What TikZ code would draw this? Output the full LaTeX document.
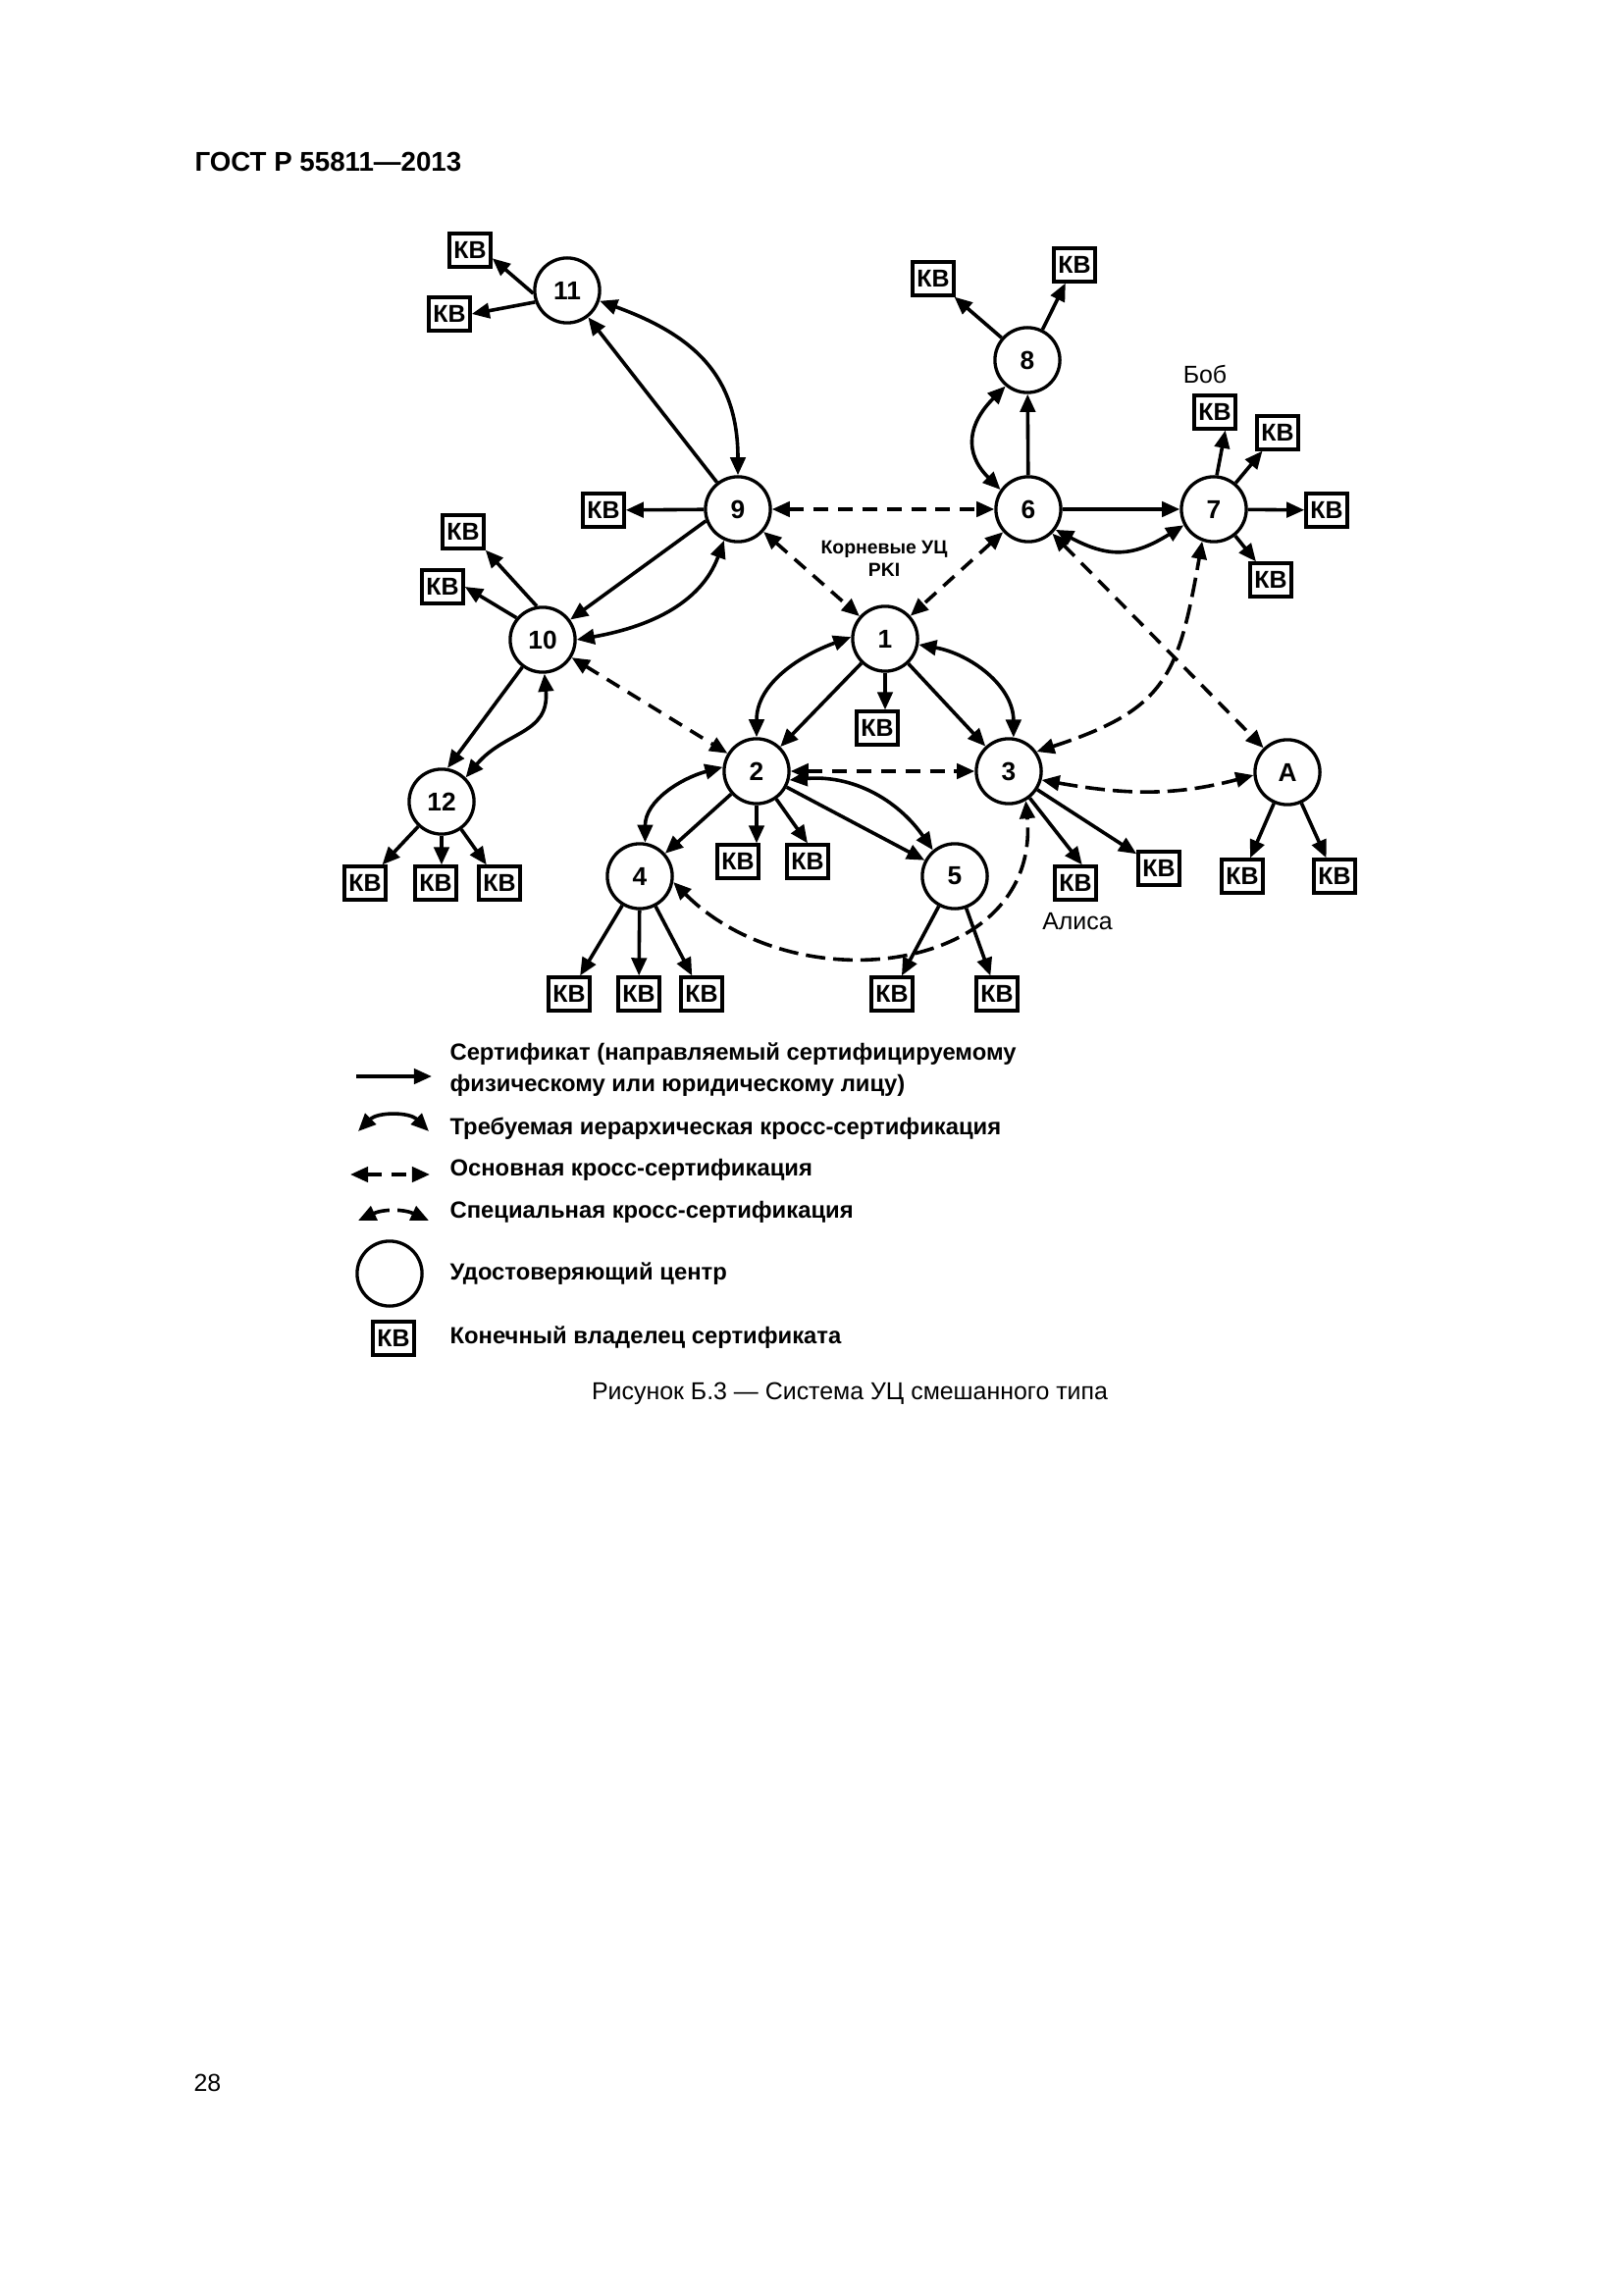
\documentclass[tikz,border=0pt]{standalone}
\usepackage{fontspec}
\setmainfont{Liberation Sans}
\usetikzlibrary{arrows.meta,calc}
\begin{document}
\begin{tikzpicture}[x=0.12696mm,y=0.12696mm,
  >={Triangle[length=2.3mm,width=1.95mm]},
  ca/.style={circle,draw,line width=1.2pt,minimum size=8.4mm,inner sep=0pt,font=\fontsize{9.5}{10}\selectfont\bfseries},
  kb/.style={rectangle,draw,line width=1.2pt,minimum width=5.35mm,minimum height=4.3mm,inner sep=0pt,font=\fontsize{9}{10}\selectfont\bfseries},
  cert/.style={line width=1.3pt,->},
  req/.style={line width=1.3pt,<->},
  basic/.style={line width=1.3pt,<->,dash pattern=on 5.4pt off 3.6pt},
  spec/.style={line width=1.3pt,<->,dash pattern=on 7.2pt off 2.9pt},
  legspec/.style={line width=1.3pt,<->,dash pattern=on 6pt off 3pt},
  lbl/.style={font=\fontsize{9}{11}\selectfont},
  leg/.style={font=\fontsize{8.6}{11.6}\selectfont\bfseries,anchor=west,align=left,inner sep=0pt}
]
\path[use as bounding box] (0,0) rectangle (1654,-2339);

% header, caption, page number
\node[anchor=west,inner sep=0pt,font=\fontsize{10}{12}\selectfont\bfseries] (hdr) at (198,-165) {ГОСТ Р 55811—2013};
\node[inner sep=0pt,font=\fontsize{9}{11}\selectfont] (cap) at (866,-1420) {Рисунок Б.3 — Система УЦ смешанного типа};
\node[anchor=west,inner sep=0pt,font=\fontsize{9}{11}\selectfont] (pg) at (197,-2123) {28};

% certification authorities
\node[ca] (n11) at (578,-296) {11};
\node[ca] (n9) at (752,-519) {9};
\node[ca] (n10) at (553,-652) {10};
\node[ca] (n12) at (450,-817) {12};
\node[ca] (n1) at (902,-651) {1};
\node[ca] (n2) at (771,-786) {2};
\node[ca] (n3) at (1028,-786) {3};
\node[ca] (n4) at (652,-893) {4};
\node[ca] (n5) at (973,-893) {5};
\node[ca] (nA) at (1312,-787) {A};
\node[ca] (n6) at (1048,-519) {6};
\node[ca] (n7) at (1237,-519) {7};
\node[ca] (n8) at (1047,-367) {8};

% end entities
\node[kb] (k11a) at (479,-255) {КВ};
\node[kb] (k11b) at (458,-320) {КВ};
\node[kb] (k9) at (615,-520) {КВ};
\node[kb] (k10a) at (472,-542) {КВ};
\node[kb] (k10b) at (451,-598) {КВ};
\node[kb] (k12a) at (372,-900) {КВ};
\node[kb] (k12b) at (444,-900) {КВ};
\node[kb] (k12c) at (509,-900) {КВ};
\node[kb] (k1) at (894,-742) {КВ};
\node[kb] (k2a) at (752,-878) {КВ};
\node[kb] (k2b) at (823,-878) {КВ};
\node[kb] (k4a) at (580,-1013) {КВ};
\node[kb] (k4b) at (651,-1013) {КВ};
\node[kb] (k4c) at (715,-1013) {КВ};
\node[kb] (k5a) at (909,-1013) {КВ};
\node[kb] (k5b) at (1016,-1013) {КВ};
\node[kb] (k3a) at (1096,-900) {КВ};
\node[kb] (k3b) at (1181,-885) {КВ};
\node[kb] (kAa) at (1266,-893) {КВ};
\node[kb] (kAb) at (1360,-893) {КВ};
\node[kb] (k8a) at (951,-284) {КВ};
\node[kb] (k8b) at (1095,-270) {КВ};
\node[kb] (k7a) at (1238,-420) {КВ};
\node[kb] (k7b) at (1302,-441) {КВ};
\node[kb] (k7c) at (1352,-520) {КВ};
\node[kb] (k7d) at (1295,-591) {КВ};

% labels
\node[lbl] (bob) at (1228,-381) {Боб};
\node[lbl] (alice) at (1098,-939) {Алиса};
\node[font=\fontsize{7}{8.3}\selectfont\bfseries,align=center,inner sep=0pt] (root) at (901,-569) {Корневые УЦ\\PKI};

% certificates
\draw[cert] (n11.185) -- (k11a.-20);
\draw[cert] (n11.-160) -- (k11b.east);
\draw[cert] (n9) -- (n11);
\draw[cert] (n9) -- (k9);
\draw[cert] (n9.200) -- (n10);
\draw[cert] (n10.100) -- (k10a.south east);
\draw[cert] (n10.140) -- (k10b.east);
\draw[cert] (n10) -- (n12.80);
\draw[cert] (n12) -- (k12a);
\draw[cert] (n12.south) -- (n12.south |- k12b.north);
\draw[cert] (n12) -- (k12c);
\draw[cert] (n1) -- (n2);
\draw[cert] (n1.south) -- (n1.south |- k1.north);
\draw[cert] (n1) -- (n3);
\draw[cert] (n2) -- (n4);
\draw[cert] (n2.south) -- (n2.south |- k2a.north);
\draw[cert] (n2) -- (k2b.north);
\draw[cert] (n2) -- (n5);
\draw[cert] (n4) -- (k4a);
\draw[cert] (n4) -- (k4b);
\draw[cert] (n4) -- (k4c);
\draw[cert] (n5) -- (k5a);
\draw[cert] (n5) -- (k5b);
\draw[cert] (n3) -- (k3a.70);
\draw[cert] (n3) -- (k3b);
\draw[cert] (nA) -- (kAa);
\draw[cert] (nA) -- (kAb);
\draw[cert] (n6) -- (n8);
\draw[cert] (n6) -- (n7);
\draw[cert] (n8) -- (k8a);
\draw[cert] (n8) -- (k8b);
\draw[cert] (n7.85) -- (k7a.-60);
\draw[cert] (n7) -- (k7b);
\draw[cert] (n7) -- (k7c);
\draw[cert] (n7) -- (k7d);

% required hierarchical cross-certification
\draw[req] (n11.-18) to[out=-20,in=90,looseness=1.15] (n9.north);
\draw[req] (n9.-114) to[out=-110,in=10] (n10.east);
\draw[req] (n10.-87) to[out=-85,in=50,looseness=1.2] (n12.45);
\draw[req] (n1.177) to[out=-160,in=90] (n2.north);
\draw[req] (n1.-10) to[out=-10,in=90] (n3.82);
\draw[req] (n2.173) to[out=-165,in=90] (n4.81);
\draw[req] (n2.-15) to[out=5,in=125] (n5.130);
\draw[req] (n6.145) to[out=135,in=-135,looseness=1.3] (n8.-130);
\draw[req] (n6.-37) to[out=-28,in=-148,looseness=1.2] (n7.-152);

% basic cross-certification
\draw[basic] (n9) -- (n6);
\draw[basic] (n9) -- (n1);
\draw[basic] (n6) -- (n1);
\draw[basic] (n10) -- (n2);
\draw[basic] (n2) -- (n3);
\draw[basic] (n6) -- (nA);

% special cross-certification
\draw[spec] (n3.35) to[out=18,in=-100,looseness=1.3] (n7.-110);
\draw[spec] (n3.-15) to[out=-10,in=-165] (nA.185);
\draw[spec] (n4.-10) .. controls +(-45:177) and +(-85:177) .. (n3.-60);

% legend
\coordinate (l1a) at (363,-1097);
\coordinate (l1b) at (440,-1097);
\draw[cert] (l1a) -- (l1b);
\node[leg] (t1) at (458,-1090) {Сертификат (направляемый сертифицируемому\\физическому или юридическому лицу)};
\coordinate (l2a) at (365,-1153);
\coordinate (l2b) at (437,-1153);
\draw[req] (l2a) to[bend left=45] (l2b);
\node[leg] (t2) at (458,-1150) {Требуемая иерархическая кросс-сертификация};
\coordinate (l3a) at (357,-1197);
\coordinate (l3b) at (438,-1197);
\draw[basic] (l3a) -- (l3b);
\node[leg] (t3) at (458,-1192) {Основная кросс-сертификация};
\coordinate (l4a) at (365,-1244);
\coordinate (l4b) at (437,-1244);
\draw[legspec] (l4a) to[bend left=25] (l4b);
\node[leg] (t4) at (458,-1235) {Специальная кросс-сертификация};
\node[ca] (lc) at (397,-1298) {};
\node[leg] (t5) at (458,-1298) {Удостоверяющий центр};
\node[kb] (lk) at (401,-1364) {КВ};
\node[leg] (t6) at (458,-1363) {Конечный владелец сертификата};
\end{tikzpicture}
\end{document}
